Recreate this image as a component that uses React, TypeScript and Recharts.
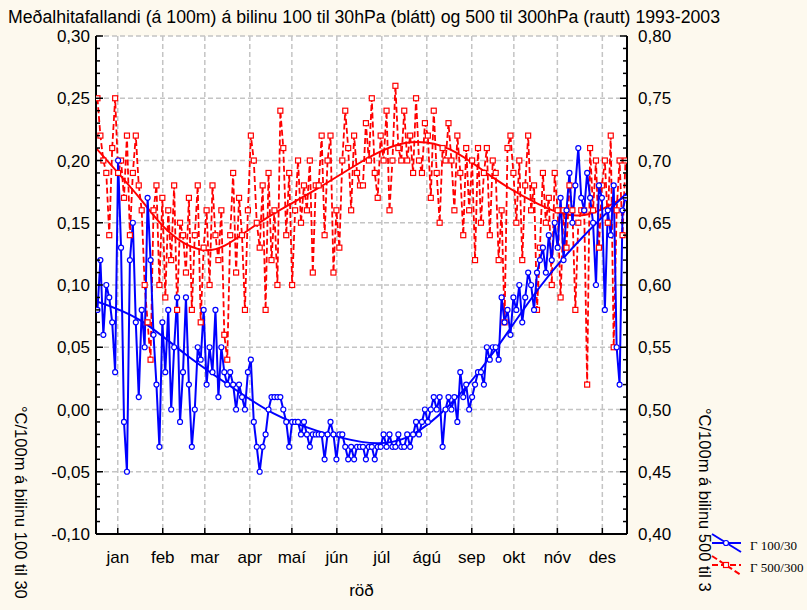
import { ComposedChart, Line, XAxis, YAxis, CartesianGrid } from 'recharts';

const FONT = '"Liberation Sans", Arial, Helvetica, sans-serif';
const SERIF = '"Liberation Serif", "Times New Roman", serif';
const BG = '#fdf9ee';
const BLUE = '#0000ff';
const RED = '#ff0000';

const months = ['jan', 'feb', 'mar', 'apr', 'maí', 'jún', 'júl', 'ágú', 'sep', 'okt', 'nóv', 'des'];
const monthMid = [15, 46, 75, 106, 135, 166, 197, 228, 259, 288, 318, 349];
const monthEdge = [31, 62, 91, 121, 151, 181, 210, 241, 271, 301, 330, 361];

const leftGrid = [-0.1, -0.05, 0, 0.05, 0.1, 0.15, 0.2, 0.25, 0.3];
const leftTicks = Array.from({ length: 41 }, (_, i) => (i - 10) / 100);
const rightTicks = Array.from({ length: 41 }, (_, i) => (i + 40) / 100);

// Γ 100/30, left axis (about every other day, jan..des)
const blue100 = [
  0.08, 0.12, 0.06, 0.10, 0.09, 0.07, 0.03, 0.20, 0.13, -0.01, -0.05, 0.12, 0.15, 0.07, 0.01,
  0.08, 0.05, 0.17, 0.12, 0.06, 0.02, -0.03, 0.07, 0.03, 0.08, 0.00, 0.05, 0.09, -0.01, 0.03,
  0.09, 0.02, -0.03, 0.00, 0.05, 0.04, 0.08, 0.02, 0.05, 0.03, 0.08, 0.01, 0.05, 0.03, 0.02,
  0.03, 0.02, 0.00, 0.02, 0.01, 0.00, 0.03, 0.04, -0.01, -0.03, -0.05, -0.03, -0.02, 0.00, 0.01,
  0.01, 0.01, 0.01, 0.00, -0.01, -0.03, -0.01, -0.01, -0.01, -0.02, -0.01, -0.02, -0.03, -0.02, -0.02,
  -0.02, -0.02, -0.04, -0.02, -0.01, -0.02, -0.04, -0.02, -0.02, -0.03, -0.04, -0.03, -0.04, -0.03, -0.03,
  -0.03, -0.04, -0.03, -0.03, -0.04, -0.03, -0.03, -0.02, -0.03, -0.02, -0.03, -0.03, -0.02, -0.03, -0.03,
  -0.02, -0.03, -0.02, -0.01, -0.02, -0.01, 0.00, -0.01, 0.00, 0.01, 0.00, 0.01, -0.03, 0.00, 0.01,
  0.00, 0.01, -0.01, 0.03, 0.01, 0.02, 0.00, 0.01, 0.02, 0.03, 0.03, 0.02, 0.05, 0.04, 0.05,
  0.05, 0.04, 0.09, 0.07, 0.08, 0.06, 0.09, 0.08, 0.10, 0.07, 0.09, 0.11, 0.10, 0.08, 0.11,
  0.12, 0.13, 0.11, 0.14, 0.12, 0.15, 0.13, 0.17, 0.12, 0.16, 0.19, 0.15, 0.18, 0.21, 0.17,
  0.16, 0.19, 0.17, 0.15, 0.10, 0.18, 0.17, 0.08, 0.16, 0.14, 0.18, 0.05, 0.02, 0.16, 0.17,
];

// Γ 500/300, right axis
const red500 = [
  0.75, 0.72, 0.70, 0.69, 0.64, 0.71, 0.75, 0.69, 0.70, 0.67, 0.72, 0.64, 0.69, 0.72, 0.68,
  0.66, 0.60, 0.57, 0.54, 0.66, 0.68, 0.60, 0.67, 0.59, 0.66, 0.62, 0.68, 0.58, 0.65, 0.64,
  0.61, 0.67, 0.58, 0.64, 0.68, 0.57, 0.63, 0.66, 0.60, 0.68, 0.64, 0.62, 0.66, 0.56, 0.54,
  0.64, 0.69, 0.61, 0.67, 0.64, 0.58, 0.66, 0.72, 0.70, 0.65, 0.63, 0.68, 0.58, 0.69, 0.62,
  0.66, 0.60, 0.74, 0.71, 0.64, 0.69, 0.60, 0.66, 0.70, 0.65, 0.68, 0.66, 0.70, 0.61, 0.68,
  0.68, 0.72, 0.64, 0.70, 0.72, 0.61, 0.66, 0.63, 0.70, 0.74, 0.71, 0.66, 0.72, 0.69, 0.68,
  0.68, 0.73, 0.70, 0.75, 0.69, 0.67, 0.72, 0.70, 0.74, 0.66, 0.70, 0.76, 0.71, 0.70, 0.74,
  0.70, 0.72, 0.69, 0.75, 0.70, 0.69, 0.73, 0.72, 0.67, 0.74, 0.69, 0.65, 0.71, 0.70, 0.73,
  0.70, 0.66, 0.72, 0.69, 0.64, 0.71, 0.66, 0.70, 0.62, 0.71, 0.65, 0.69, 0.71, 0.64, 0.70,
  0.69, 0.62, 0.66, 0.57, 0.71, 0.72, 0.69, 0.65, 0.70, 0.62, 0.68, 0.72, 0.66, 0.68, 0.58,
  0.63, 0.69, 0.65, 0.67, 0.60, 0.69, 0.66, 0.59, 0.66, 0.63, 0.68, 0.66, 0.58, 0.65, 0.66,
  0.66, 0.52, 0.71, 0.66, 0.70, 0.63, 0.68, 0.70, 0.65, 0.72, 0.55, 0.66, 0.70, 0.64, 0.70,
];

// smoothed fits
const blueTrendDays = [0, 30, 61, 91, 122, 152, 183, 213, 244, 274, 305, 335, 366];
const blueTrend = [0.087, 0.072, 0.045, 0.02, -0.003, -0.017, -0.026, -0.023, 0.004, 0.046, 0.097, 0.138, 0.174];
const redTrendDays = [0, 30, 50, 76, 100, 122, 152, 183, 213, 244, 274, 305, 335, 366];
const redTrend = [0.71, 0.67, 0.643, 0.628, 0.64, 0.657, 0.677, 0.699, 0.714, 0.709, 0.686, 0.665, 0.656, 0.672];

const STEP = 366 / blue100.length;
const blueData = blue100.map((v, i) => ({ day: 1 + i * STEP, v }));
const redData = red500.map((v, i) => ({ day: 1 + i * STEP, v }));
const blueTrendData = blueTrendDays.map((day, i) => ({ day, v: blueTrend[i] }));
const redTrendData = redTrendDays.map((day, i) => ({ day, v: redTrend[i] }));

const fmt = (v: number) => v.toFixed(2).replace('.', ',');
const isMajor = (v: number) => Math.round(v * 100) % 5 === 0;

function LeftTick({ x, y, payload }: any) {
  const major = isMajor(payload.value);
  return (
    <g>
      <line x1={x} x2={x + (major ? 7 : 4)} y1={y} y2={y} stroke="#000" strokeWidth={1.5} />
      {major && (
        <text x={x - 6} y={y} dy="0.36em" textAnchor="end" fontSize={17} fontFamily={FONT} fill="#000">
          {fmt(payload.value)}
        </text>
      )}
    </g>
  );
}

function RightTick({ x, y, payload }: any) {
  const major = isMajor(payload.value);
  return (
    <g>
      <line x1={x} x2={x - (major ? 7 : 4)} y1={y} y2={y} stroke="#000" strokeWidth={1.5} />
      {major && (
        <text x={x + 11} y={y} dy="0.36em" textAnchor="start" fontSize={17} fontFamily={FONT} fill="#000">
          {fmt(payload.value)}
        </text>
      )}
    </g>
  );
}

function BottomTick({ x, y, payload }: any) {
  const i = monthMid.indexOf(payload.value);
  return (
    <g>
      <line x1={x} x2={x} y1={y} y2={y - 6} stroke="#000" strokeWidth={1.5} />
      <text x={x} y={y + 29} textAnchor="middle" fontSize={17} fontFamily={FONT} fill="#000">
        {months[i]}
      </text>
    </g>
  );
}

function TopTick({ x, y, payload }: any) {
  const major = monthMid.includes(payload.value);
  return <line x1={x} x2={x} y1={y} y2={y + (major ? 6 : 4)} stroke="#000" strokeWidth={1.5} />;
}

function SideLabel({ px, py, text }: any) {
  return (
    <text x={px} y={py} transform={`rotate(90 ${px} ${py})`} fontSize={16.5} fontFamily={FONT} fill="#000">
      {text}
    </text>
  );
}

const BlueDot = (p: any) => (
  <circle key={`b${p.index}`} cx={p.cx} cy={p.cy} r={2.5} fill="#fff" stroke={BLUE} strokeWidth={1.2} />
);
const RedDot = (p: any) => (
  <rect key={`r${p.index}`} x={p.cx - 2.5} y={p.cy - 2.5} width={5} height={5} fill="#fff" stroke={RED} strokeWidth={1.2} />
);

export default function App() {
  const topTicks = [...monthMid, ...monthEdge].sort((a, b) => a - b);
  return (
    <div style={{ position: 'absolute', left: 0, top: 0, width: 807, height: 610, background: BG, fontFamily: FONT }}>
      <ComposedChart width={807} height={610} margin={{ top: 36, right: 120, bottom: 36, left: 36 }}>
        <CartesianGrid
          yAxisId="left"
          fill="#fff"
          stroke="#c4c4c4"
          strokeWidth={1.5}
          strokeDasharray="5 3"
          horizontalValues={leftGrid}
          verticalValues={monthMid}
        />
        <Line yAxisId="right" data={redData} dataKey="v" type="linear" stroke={RED} strokeWidth={1.8}
          strokeDasharray="6 3" dot={RedDot} activeDot={false} isAnimationActive={false} />
        <Line yAxisId="right" data={redTrendData} dataKey="v" type="natural" stroke={RED} strokeWidth={2}
          dot={false} activeDot={false} isAnimationActive={false} />
        <Line yAxisId="left" data={blueData} dataKey="v" type="linear" stroke={BLUE} strokeWidth={2}
          dot={BlueDot} activeDot={false} isAnimationActive={false} />
        <Line yAxisId="left" data={blueTrendData} dataKey="v" type="natural" stroke={BLUE} strokeWidth={2}
          dot={false} activeDot={false} isAnimationActive={false} />
        <XAxis
          dataKey="day"
          type="number"
          domain={[0, 366]}
          allowDataOverflow
          ticks={monthMid}
          interval={0}
          height={40}
          tickSize={0}
          tickMargin={0}
          tickLine={false}
          tick={<BottomTick />}
          axisLine={{ stroke: '#000', strokeWidth: 2 }}
          label={{ value: 'röð', position: 'bottom', offset: 10, fontSize: 17, fill: '#000', fontFamily: FONT }}
        />
        <XAxis
          xAxisId="top"
          orientation="top"
          dataKey="day"
          type="number"
          domain={[0, 366]}
          allowDataOverflow
          ticks={topTicks}
          interval={0}
          height={0}
          tickSize={0}
          tickMargin={0}
          tickLine={false}
          tick={<TopTick />}
          axisLine={{ stroke: '#000', strokeWidth: 2 }}
        />
        <YAxis
          yAxisId="left"
          type="number"
          domain={[-0.1, 0.3]}
          allowDataOverflow
          ticks={leftTicks}
          interval={0}
          width={60}
          tickSize={0}
          tickMargin={0}
          tickLine={false}
          tick={<LeftTick />}
          axisLine={{ stroke: '#000', strokeWidth: 2 }}
          label={<SideLabel px={15} py={406} text="°C/100m á bilinu 100 til 30" />}
        />
        <YAxis
          yAxisId="right"
          orientation="right"
          type="number"
          domain={[0.4, 0.8]}
          allowDataOverflow
          ticks={rightTicks}
          interval={0}
          width={60}
          tickSize={0}
          tickMargin={0}
          tickLine={false}
          tick={<RightTick />}
          axisLine={{ stroke: '#000', strokeWidth: 2 }}
          label={<SideLabel px={699} py={408} text="°C/100m á bilinu 500 til 3" />}
        />
      </ComposedChart>
      <svg width={807} height={610} style={{ position: 'absolute', left: 0, top: 0, pointerEvents: 'none' }}>
        <text x={8} y={23} fontSize={17.5} fontFamily={FONT} fill="#000" textLength={712} lengthAdjust="spacingAndGlyphs">
          Meðalhitafallandi (á 100m) á bilinu 100 til 30hPa (blátt) og 500 til 300hPa (rautt) 1993-2003
        </text>
        <g>
          <line x1={712} y1={534} x2={741} y2={552} stroke={BLUE} strokeWidth={2} />
          <line x1={712} y1={543} x2={741} y2={543} stroke={BLUE} strokeWidth={2} />
          <circle cx={726} cy={543} r={2.5} fill="#fff" stroke={BLUE} strokeWidth={1.2} />
          <text x={750} y={550} fontSize={13} fontFamily={SERIF} fill="#000">Γ 100/30</text>
        </g>
        <g>
          <line x1={712} y1={556} x2={741} y2={575} stroke={RED} strokeWidth={2} strokeDasharray="6 3" />
          <line x1={712} y1={565} x2={741} y2={565} stroke={RED} strokeWidth={2} strokeDasharray="6 3" />
          <rect x={723.5} y={562.5} width={5} height={5} fill="#fff" stroke={RED} strokeWidth={1.2} />
          <text x={750} y={572} fontSize={13} fontFamily={SERIF} fill="#000">Γ 500/300</text>
        </g>
      </svg>
    </div>
  );
}
